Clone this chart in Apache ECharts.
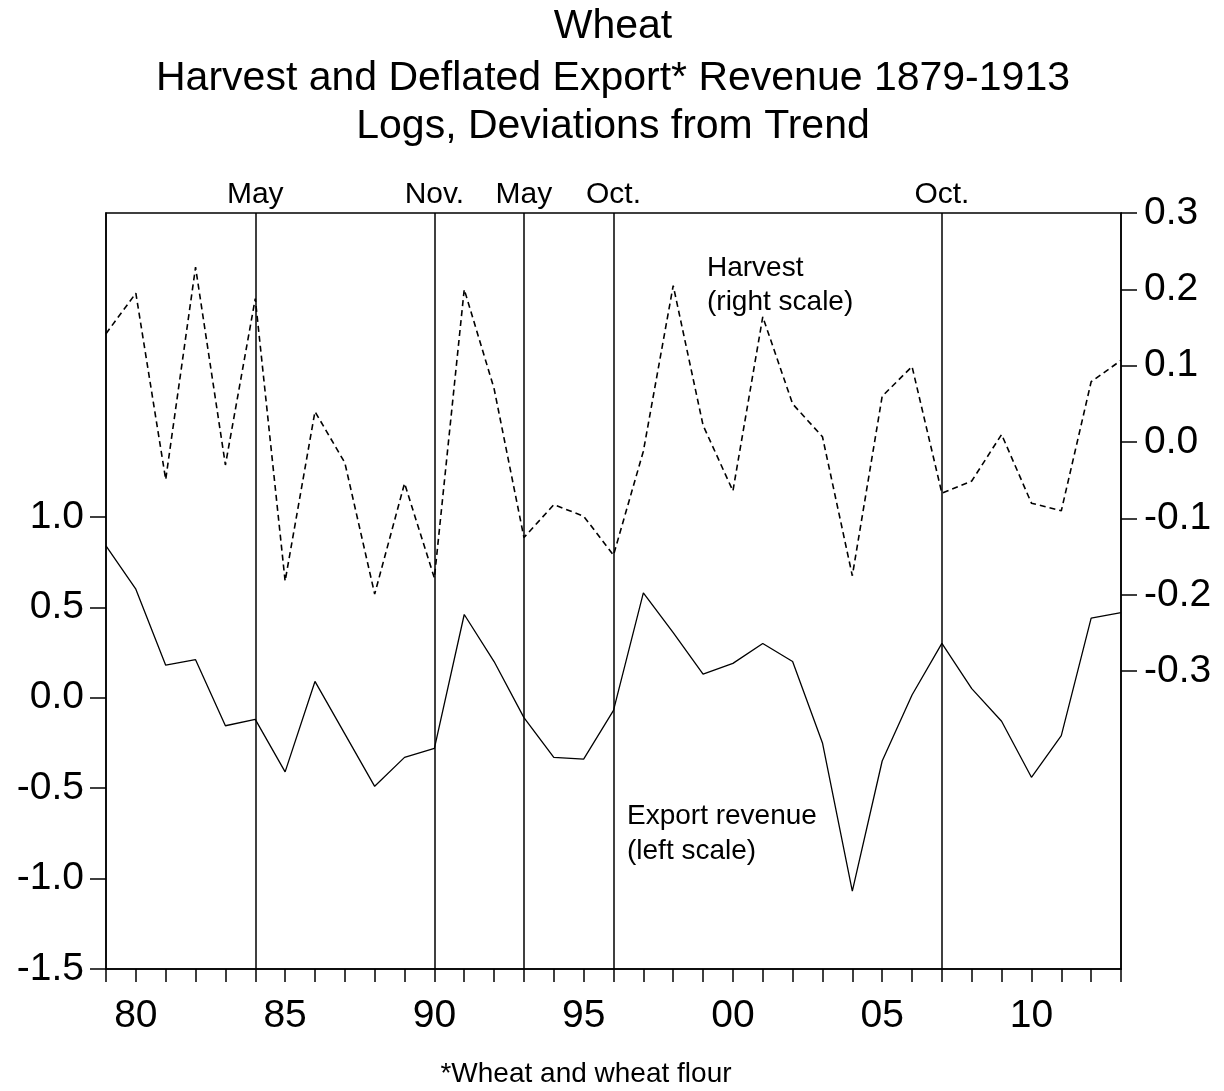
<!DOCTYPE html>
<html>
<head>
<meta charset="utf-8">
<script src="https://cdn.jsdelivr.net/npm/echarts@6/dist/echarts.min.js"></script>
<style>
html,body{margin:0;padding:0;background:#fff;}
#chart{width:1224px;height:1091px;}
</style>
</head>
<body>
<div id="chart"></div>
<script>
// ---- data ----
const years = [1879,1880,1881,1882,1883,1884,1885,1886,1887,1888,1889,1890,1891,1892,1893,1894,1895,1896,1897,1898,1899,1900,1901,1902,1903,1904,1905,1906,1907,1908,1909,1910,1911,1912,1913];
const exportRevenue = [0.84,0.60,0.18,0.21,-0.155,-0.12,-0.41,0.09,-0.20,-0.49,-0.33,-0.28,0.46,0.20,-0.11,-0.33,-0.34,-0.07,0.58,0.36,0.13,0.19,0.30,0.20,-0.25,-1.07,-0.35,0.015,0.30,0.05,-0.13,-0.44,-0.21,0.44,0.47];
const harvest = [0.142,0.195,-0.049,0.229,-0.03,0.188,-0.182,0.04,-0.027,-0.199,-0.054,-0.178,0.20,0.07,-0.125,-0.082,-0.097,-0.148,-0.012,0.205,0.022,-0.064,0.164,0.05,0.007,-0.175,0.06,0.099,-0.067,-0.051,0.01,-0.08,-0.09,0.079,0.107];
const eventYears = [1884,1890,1893,1896,1907];
const eventLabels = ['May','Nov.','May','Oct.','Oct.'];
const leftTicks = [-1.5,-1.0,-0.5,0.0,0.5,1.0];
const rightTicks = [-0.3,-0.2,-0.1,0.0,0.1,0.2,0.3];
const titleLines = ['Wheat','Harvest and Deflated Export* Revenue 1879-1913','Logs, Deviations from Trend'];
const footnote = '*Wheat and wheat flour';

const FONT = '"Liberation Sans", Arial, Helvetica, sans-serif';
const chart = echarts.init(document.getElementById('chart'), null, {renderer:'canvas'});

const exportData = years.map((y,i)=>[y, exportRevenue[i]]);
const harvestData = years.map((y,i)=>[y, harvest[i]]);

const option = {
  backgroundColor:'#fff',
  animation:false,
  grid:{left:106,right:103,top:213,bottom:122,show:true,borderColor:'#000',borderWidth:1.5,backgroundColor:'transparent'},
  xAxis:{
    type:'value',min:1879,max:1913,interval:1,
    axisLine:{show:true,onZero:false,lineStyle:{color:'#000',width:1.5}},
    axisTick:{show:true,inside:false,length:13,lineStyle:{color:'#000',width:1.5}},
    axisLabel:{show:true,margin:28,color:'#000',fontSize:39,fontFamily:FONT,
      formatter:function(v){return (v%5===0)?String(v%100).padStart(2,'0'):'';}},
    splitLine:{show:false}
  },
  yAxis:[
    {type:'value',position:'left',min:-1.5,max:2.68,interval:0.5,
      axisLine:{show:true,onZero:false,lineStyle:{color:'#000',width:1.5}},
      axisTick:{show:true,inside:false,length:16,lineStyle:{color:'#000',width:1.5},customValues:leftTicks},
      axisLabel:{show:true,margin:22,color:'#000',fontSize:39,fontFamily:FONT,customValues:leftTicks,
        formatter:function(v){return v>1.0001?'':v.toFixed(1);}},
      splitLine:{show:false}},
    {type:'value',position:'right',min:-0.69,max:0.3,
      axisLine:{show:true,onZero:false,lineStyle:{color:'#000',width:1.5}},
      axisTick:{show:true,inside:false,length:16,lineStyle:{color:'#000',width:1.5},customValues:rightTicks},
      axisLabel:{show:true,margin:23,color:'#000',fontSize:39,fontFamily:FONT,customValues:rightTicks,
        formatter:function(v){return v.toFixed(1);}},
      splitLine:{show:false}}
  ],
  series:[
    {name:'Export revenue',type:'line',yAxisIndex:0,data:exportData,symbol:'none',
      lineStyle:{color:'#000',width:1.3,type:'solid'},z:3,
      markLine:{symbol:['none','none'],silent:true,
        lineStyle:{color:'#000',width:1.5,type:'solid'},
        label:{show:true,position:'end',distance:3,color:'#000',fontSize:30,fontFamily:FONT,
          formatter:function(p){return p.name;}},
        data:eventYears.map((y,i)=>({xAxis:y,name:eventLabels[i]}))}},
    {name:'Harvest',type:'line',yAxisIndex:1,data:harvestData,symbol:'none',
      lineStyle:{color:'#000',width:1.6,type:[6,4]},z:3}
  ],
  graphic:[
    {type:'text',style:{text:titleLines[0],x:613,y:27,textAlign:'center',textVerticalAlign:'middle',font:'41px '+FONT,fill:'#000'}},
    {type:'text',style:{text:titleLines[1],x:613,y:79,textAlign:'center',textVerticalAlign:'middle',font:'41px '+FONT,fill:'#000'}},
    {type:'text',style:{text:titleLines[2],x:613,y:127,textAlign:'center',textVerticalAlign:'middle',font:'41px '+FONT,fill:'#000'}},
    {type:'text',style:{text:'Harvest',x:707,y:268,textAlign:'left',textVerticalAlign:'middle',font:'28px '+FONT,fill:'#000'}},
    {type:'text',style:{text:'(right scale)',x:707,y:302,textAlign:'left',textVerticalAlign:'middle',font:'28px '+FONT,fill:'#000'}},
    {type:'text',style:{text:'Export revenue',x:627,y:816,textAlign:'left',textVerticalAlign:'middle',font:'28px '+FONT,fill:'#000'}},
    {type:'text',style:{text:'(left scale)',x:627,y:851,textAlign:'left',textVerticalAlign:'middle',font:'28px '+FONT,fill:'#000'}},
    {type:'text',style:{text:footnote,x:586,y:1074,textAlign:'center',textVerticalAlign:'middle',font:'28px '+FONT,fill:'#000'}}
  ]
};
chart.setOption(option);
</script>
</body>
</html>
